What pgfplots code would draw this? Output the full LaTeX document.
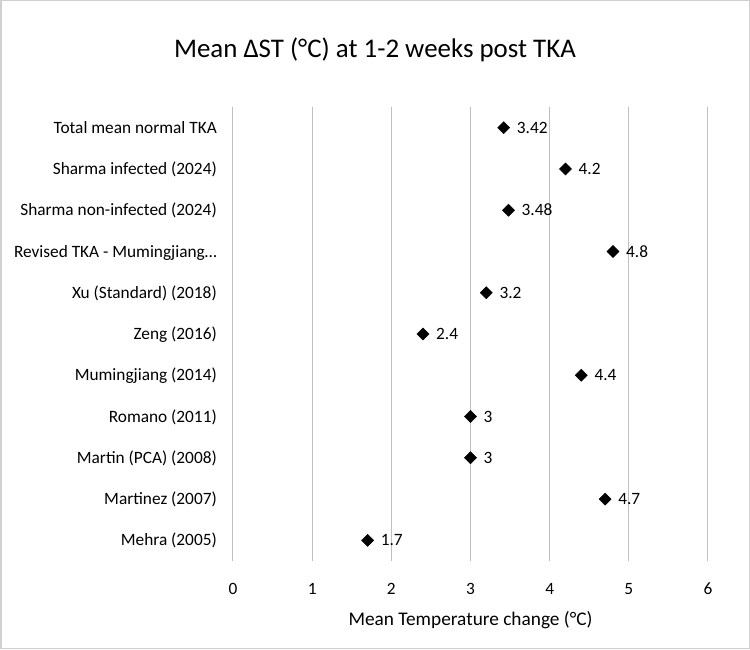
\documentclass[border=0pt]{standalone}
\usepackage{pgfplots}
\pgfplotsset{compat=1.18}
\usepackage{pgfplotstable}
\usepackage{fontspec}
\setmainfont{Carlito}
\definecolor{gridgray}{HTML}{BFBFBF}
\definecolor{framegray}{HTML}{D0D0D0}
\pgfplotstableread[col sep=comma]{
y,x,lab
1,1.7,1.7
2,4.7,4.7
3,3,3
4,3,3
5,4.4,4.4
6,2.4,2.4
7,3.2,3.2
8,4.8,4.8
9,3.48,3.48
10,4.2,4.2
11,3.42,3.42
}\datatable
\begin{document}
\begin{tikzpicture}
\fill[white] (0pt,0pt) rectangle (750pt,649pt);
\draw[framegray, line width=1.5pt] (0.75pt,0.75pt) rectangle (749.25pt,648.25pt);
\node[anchor=base, font=\fontsize{26.9}{30}\selectfont] at (375pt,591pt) {Mean ΔST (°C) at 1-2 weeks post TKA};
\begin{axis}[
  at={(233pt,88pt)}, anchor=south west,
  scale only axis, width=475pt, height=454pt,
  xmin=0, xmax=6, ymin=0.5, ymax=11.5,
  xtick={0,1,2,3,4,5,6},
  ytick={1,...,11},
  yticklabels={Mehra (2005),Martinez (2007),Martin (PCA) (2008),Romano (2011),Mumingjiang (2014),Zeng (2016),Xu (Standard) (2018),Revised TKA - Mumingjiang…,Sharma non-infected (2024),Sharma infected (2024),Total mean normal TKA},
  axis line style={draw=none},
  major tick length=0pt,
  xmajorgrids, grid style={gridgray, line width=1pt},
  ymajorgrids=false,
  /pgf/number format/assume math mode=true,
  tick label style={font=\fontsize{17.3}{20}\selectfont, text=black},
  xticklabel style={anchor=base, yshift=-33pt},
  yticklabel style={anchor=base east, inner sep=0pt, xshift=-16pt, yshift=-5.6pt},
  xlabel={Mean Temperature change (°C)},
  xlabel style={font=\fontsize{19.3}{22}\selectfont, anchor=base, at={(axis description cs:0.5,0)}, yshift=-64pt},
  clip=false,
]
\addplot[only marks, mark=square*, mark size=4.3pt, mark options={rotate=45, fill=black, draw=black},
  nodes near coords, point meta=explicit symbolic,
  every node near coord/.style={anchor=base west, inner sep=0pt, xshift=13pt, yshift=-5.6pt, font=\fontsize{17.3}{20}\selectfont, text=black}]
  table[x=x, y=y, meta=lab] {\datatable};
\end{axis}
\end{tikzpicture}
\end{document}
